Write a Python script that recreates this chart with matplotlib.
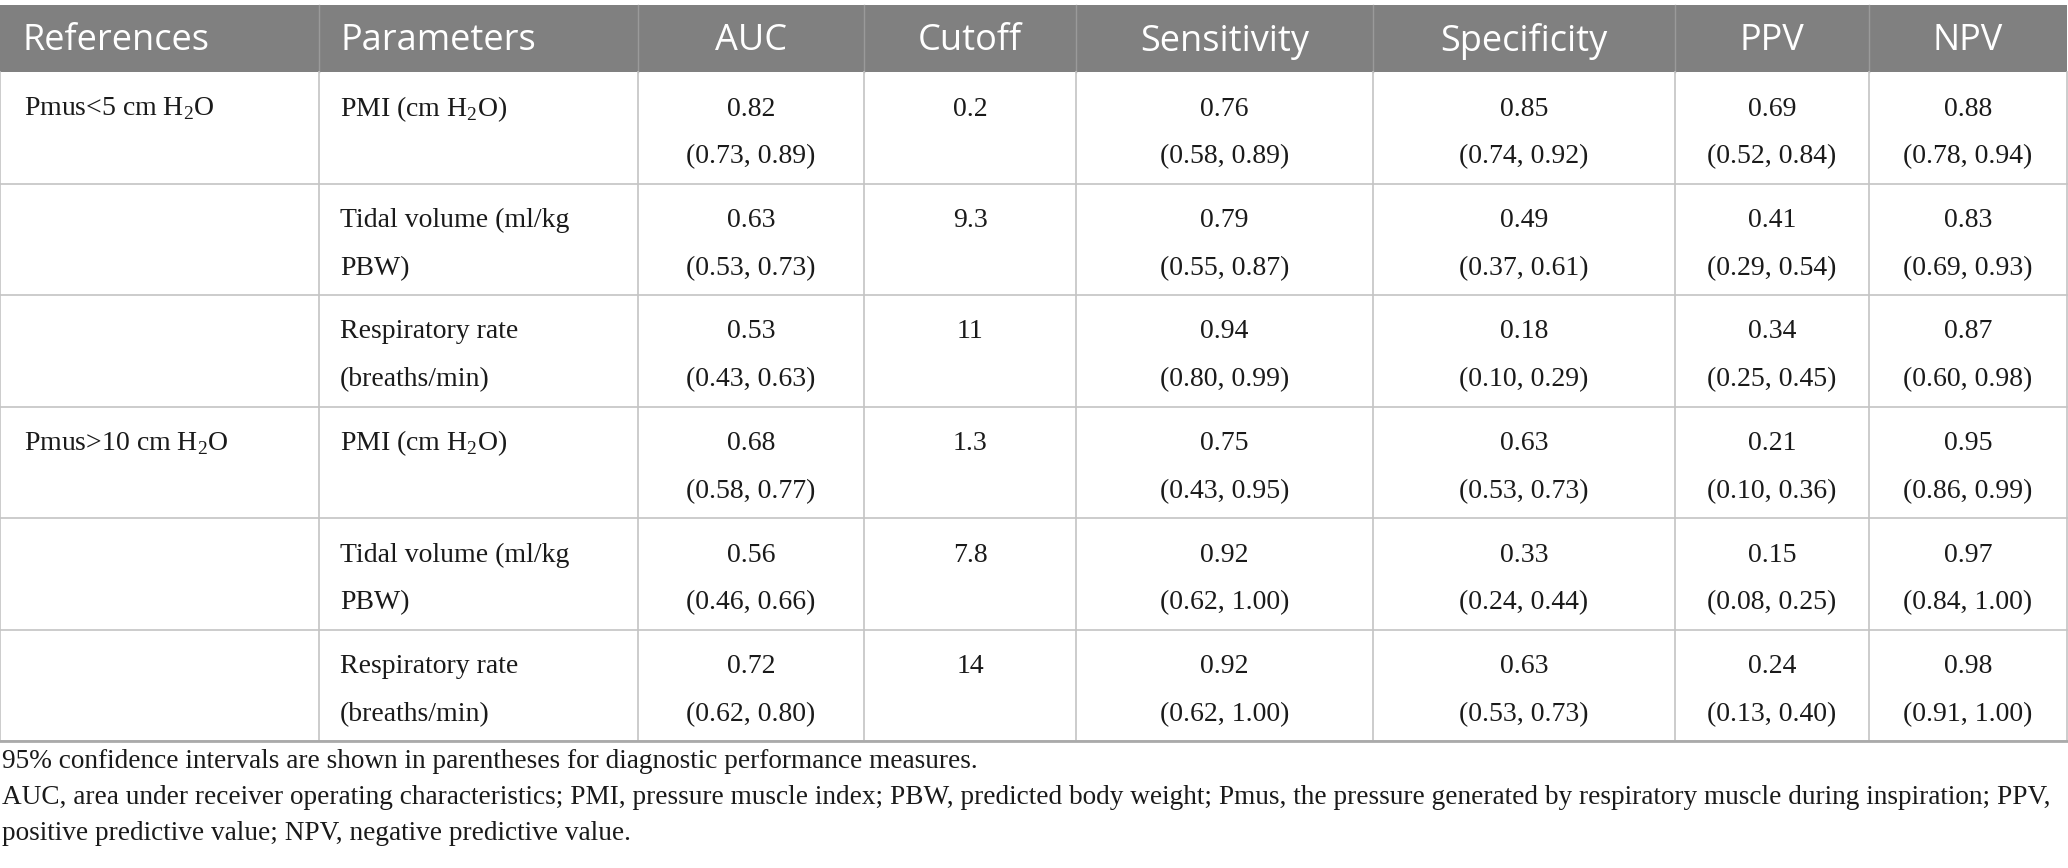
import numpy as np
import matplotlib.pyplot as plt

plt.rcParams['mathtext.fontset'] = 'custom'
plt.rcParams['mathtext.rm'] = 'Liberation Serif'

# table content
headers = ['References', 'Parameters', 'AUC', 'Cutoff', 'Sensitivity', 'Specificity', 'PPV', 'NPV']
references = ['Pmus<5 cm H$_2$O', '', '', 'Pmus>10 cm H$_2$O', '', '']
parameters = [['PMI (cm H$_2$O)'],
              ['Tidal volume (ml/kg', 'PBW)'],
              ['Respiratory rate', '(breaths/min)'],
              ['PMI (cm H$_2$O)'],
              ['Tidal volume (ml/kg', 'PBW)'],
              ['Respiratory rate', '(breaths/min)']]
auc = ['0.82', '0.63', '0.53', '0.68', '0.56', '0.72']
auc_ci = ['(0.73, 0.89)', '(0.53, 0.73)', '(0.43, 0.63)', '(0.58, 0.77)', '(0.46, 0.66)', '(0.62, 0.80)']
cutoff = ['0.2', '9.3', '11', '1.3', '7.8', '14']
sensitivity = ['0.76', '0.79', '0.94', '0.75', '0.92', '0.92']
sensitivity_ci = ['(0.58, 0.89)', '(0.55, 0.87)', '(0.80, 0.99)', '(0.43, 0.95)', '(0.62, 1.00)', '(0.62, 1.00)']
specificity = ['0.85', '0.49', '0.18', '0.63', '0.33', '0.63']
specificity_ci = ['(0.74, 0.92)', '(0.37, 0.61)', '(0.10, 0.29)', '(0.53, 0.73)', '(0.24, 0.44)', '(0.53, 0.73)']
ppv = ['0.69', '0.41', '0.34', '0.21', '0.15', '0.24']
ppv_ci = ['(0.52, 0.84)', '(0.29, 0.54)', '(0.25, 0.45)', '(0.10, 0.36)', '(0.08, 0.25)', '(0.13, 0.40)']
npv = ['0.88', '0.83', '0.87', '0.95', '0.97', '0.98']
npv_ci = ['(0.78, 0.94)', '(0.69, 0.93)', '(0.60, 0.98)', '(0.86, 0.99)', '(0.84, 1.00)', '(0.91, 1.00)']
footnotes = ['95% confidence intervals are shown in parentheses for diagnostic performance measures.',
             'AUC, area under receiver operating characteristics; PMI, pressure muscle index; PBW, predicted body weight; '
             'Pmus, the pressure generated by respiratory muscle during inspiration; PPV,',
             'positive predictive value; NPV, negative predictive value.']

# layout in pixels
W, H = 2068, 868
col_x = [0, 319, 638, 864, 1076, 1373, 1675, 1869, 2067]
head_top, head_bot = 5, 72
row_h = 111.5
line_col = '#c4c4c4'
text_col = '#1a1a1a'
serif = 'Liberation Serif'
body_fs = 20
head_fs = 26

fig = plt.figure(figsize=(W / 100, H / 100), dpi=100)
ax = fig.add_axes([0, 0, 1, 1])
ax.set_xlim(0, W)
ax.set_ylim(H, 0)
ax.axis('off')

# header
ax.add_patch(plt.Rectangle((0, head_top), col_x[-1], head_bot - head_top, color='#808080', lw=0))
for i, h in enumerate(headers):
    if i < 2:
        ax.text(col_x[i] + 22, (head_top + head_bot) / 2 + 3, h, color='white', fontsize=head_fs,
                family='Open Sans', ha='left', va='center')
    else:
        ax.text((col_x[i] + col_x[i + 1]) / 2, (head_top + head_bot) / 2 + 3, h, color='white',
                fontsize=head_fs, family='Open Sans', ha='center', va='center')
for x in col_x[1:-1]:
    ax.plot([x, x], [head_top, head_bot], color='#9a9a9a', lw=1)

# body
n = len(auc)
rows_bot = head_bot + n * row_h
centre_cols = [(auc, auc_ci), (cutoff, None), (sensitivity, sensitivity_ci), (specificity, specificity_ci),
               (ppv, ppv_ci), (npv, npv_ci)]
for r in range(n):
    top = head_bot + r * row_h
    y1 = top + 37
    y2 = top + 85
    ax.text(col_x[0] + 24, y1, references[r], fontsize=body_fs, family=serif, color=text_col, va='center')
    for k, line in enumerate(parameters[r]):
        ax.text(col_x[1] + 21, y1 if k == 0 else y2, line, fontsize=body_fs, family=serif,
                color=text_col, va='center')
    for c, (vals, cis) in enumerate(centre_cols):
        xc = (col_x[c + 2] + col_x[c + 3]) / 2
        ax.text(xc, y1, vals[r], fontsize=body_fs, family=serif, color=text_col, ha='center', va='center')
        if cis is not None:
            ax.text(xc, y2, cis[r], fontsize=body_fs, family=serif, color=text_col, ha='center', va='center')
    ax.plot([0, col_x[-1]], [top + row_h, top + row_h], color=line_col, lw=1.2)

for x in col_x:
    ax.plot([x, x], [head_bot, rows_bot], color=line_col, lw=1.2)
ax.plot([0, col_x[-1]], [rows_bot, rows_bot], color='#aaaaaa', lw=2)

for k, t in enumerate(footnotes):
    ax.text(2, 762 + k * 36, t, fontsize=19.6, family=serif, color=text_col, va='center')

fig.savefig('out.png', dpi=100)
